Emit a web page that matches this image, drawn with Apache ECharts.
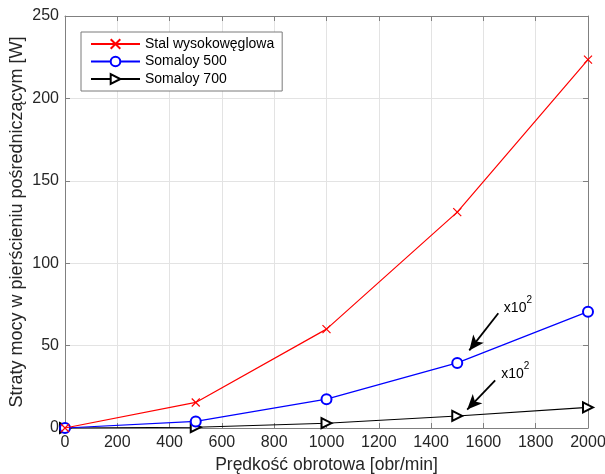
<!DOCTYPE html>
<html><head><meta charset="utf-8">
<script src="https://cdn.jsdelivr.net/npm/echarts@6/dist/echarts.min.js"></script>
<style>html,body{margin:0;padding:0;background:#fff}#c{width:605px;height:474px}</style>
</head><body><div id="c"></div>
<script>
const speeds = [0, 500, 1000, 1500, 2000];
const stalWysokoweglowa = [0, 15.5, 60, 131, 223.5];
const somaloy500 = [0, 4, 17.5, 39.5, 70.6];
const somaloy700 = [0, 0.5, 2.9, 7.3, 12.5];
const seriesNames = ['Stal wysokowęglowa', 'Somaloy 500', 'Somaloy 700'];
const xTicks = [0, 200, 400, 600, 800, 1000, 1200, 1400, 1600, 1800, 2000];
const yTicks = [0, 50, 100, 150, 200, 250];
const annotationText = 'x10';
const annotationExp = '2';
// annotation arrows in data coordinates: [fromX, fromY, toX, toY]
const arrowUpper = [1657, 69.6, 1546, 47.1];
const arrowLower = [1645, 28.9, 1538, 11.2];
const labelUpper = [1732, 74.5];
const labelLower = [1722, 34.5];

const FONT = 'Liberation Sans, Arial, Helvetica, sans-serif';
const TXT = '#262626';
const crossPath = 'path://M0,0L10,10M10,0L0,10';

function pairs(ys){ return speeds.map((x,i)=>[x, ys[i]]); }

function arrowML(a){
  return {
    silent: true, animation: false,
    symbol: ['none','arrow'], symbolSize: [10, 15],
    label: {show:false},
    lineStyle: {color:'#000', width:1.8, type:'solid'},
    emphasis: {disabled:true},
    data: [[{coord:[a[0],a[1]]},{coord:[a[2],a[3]]}]]
  };
}
function labelMP(p){
  return {
    silent: true, animation: false,
    symbol: 'circle', symbolSize: 0,
    itemStyle: {color:'transparent'},
    label: {
      show: true, position: 'inside',
      formatter: '{a|' + annotationText + '}{b|' + annotationExp + '}',
      rich: {
        a: {fontSize: 14, fontFamily: FONT, color: '#000', lineHeight: 20, verticalAlign:'bottom'},
        b: {fontSize: 10, fontFamily: FONT, color: '#000', lineHeight: 18, verticalAlign:'top'}
      }
    },
    data: [{coord: p}]
  };
}

const chart = echarts.init(document.getElementById('c'));
const axisLineStyle = {color:'#808080', width:1};
const xBase = {
  type:'value', min:0, max:2000, interval:200,
  axisLine:{show:true, onZero:false, lineStyle:axisLineStyle},
  axisTick:{show:true, inside:true, length:5, lineStyle:{color:'#808080'}},
  splitLine:{show:false}
};
const yBase = {
  type:'value', min:0, max:250, interval:50,
  axisLine:{show:true, onZero:false, lineStyle:axisLineStyle},
  axisTick:{show:true, inside:true, length:5, lineStyle:{color:'#808080'}},
  splitLine:{show:false}
};
chart.setOption({
  animation:false,
  backgroundColor:'#fff',
  textStyle:{fontFamily:FONT},
  grid:{left:65, top:16, right:17, bottom:46, containLabel:false, outerBoundsMode:'none'},
  legend:{
    orient:'vertical', left:81, top:32,
    data: seriesNames,
    itemWidth:49, itemHeight:12, itemGap:3.5,
    padding:[5,8,5,9],
    backgroundColor:'#fff', borderColor:'#7a7a7a', borderWidth:1,
    textStyle:{fontSize:14, color:'#000', fontFamily:FONT},
    selectedMode:false
  },
  xAxis:[
    Object.assign({}, xBase, {
      position:'bottom',
      name:'Prędkość obrotowa [obr/min]', nameLocation:'middle', nameGap:28, nameMoveOverlap:false,
      nameTextStyle:{fontSize:17.5, color:TXT, fontFamily:FONT},
      axisLabel:{show:true, fontSize:16, color:TXT, margin:7, fontFamily:FONT,
        formatter:v=> xTicks.includes(v) ? String(v) : ''},
      splitLine:{show:true, lineStyle:{color:'#e3e3e3', width:1}}
    }),
    Object.assign({}, xBase, {position:'top', axisLabel:{show:false}})
  ],
  yAxis:[
    Object.assign({}, yBase, {
      position:'left',
      name:'Straty mocy w pierścieniu pośredniczącym [W]', nameLocation:'middle', nameGap:39, nameMoveOverlap:false,
      nameTextStyle:{fontSize:18, color:TXT, fontFamily:FONT},
      axisLabel:{show:true, fontSize:16, color:TXT, margin:6, fontFamily:FONT,
        formatter:v=> yTicks.includes(v) ? String(v) : ''},
      splitLine:{show:true, lineStyle:{color:'#e3e3e3', width:1}}
    }),
    Object.assign({}, yBase, {position:'right', axisLabel:{show:false}})
  ],
  series:[
    {
      name:seriesNames[0], type:'line', data:pairs(stalWysokoweglowa),
      symbol:crossPath, symbolSize:8,
      itemStyle:{color:'#ff0000', borderColor:'#ff0000', borderWidth:1.2},
      lineStyle:{color:'#ff0000', width:1.2}, z:5
    },
    {
      name:seriesNames[1], type:'line', data:pairs(somaloy500),
      symbol:'emptyCircle', symbolSize:10,
      itemStyle:{color:'#0000ff', borderColor:'#0000ff', borderWidth:1.2},
      lineStyle:{color:'#0000ff', width:1.2}, z:4,
      markLine: arrowML(arrowUpper),
      markPoint: labelMP(labelUpper)
    },
    {
      name:seriesNames[2], type:'line', data:pairs(somaloy700),
      symbol:'emptyTriangle', symbolRotate:-90, symbolSize:10,
      itemStyle:{color:'#000', borderColor:'#000', borderWidth:1.1},
      lineStyle:{color:'#000', width:1.1}, z:3,
      markLine: arrowML(arrowLower),
      markPoint: labelMP(labelLower)
    }
  ]
});
</script>
</body></html>
